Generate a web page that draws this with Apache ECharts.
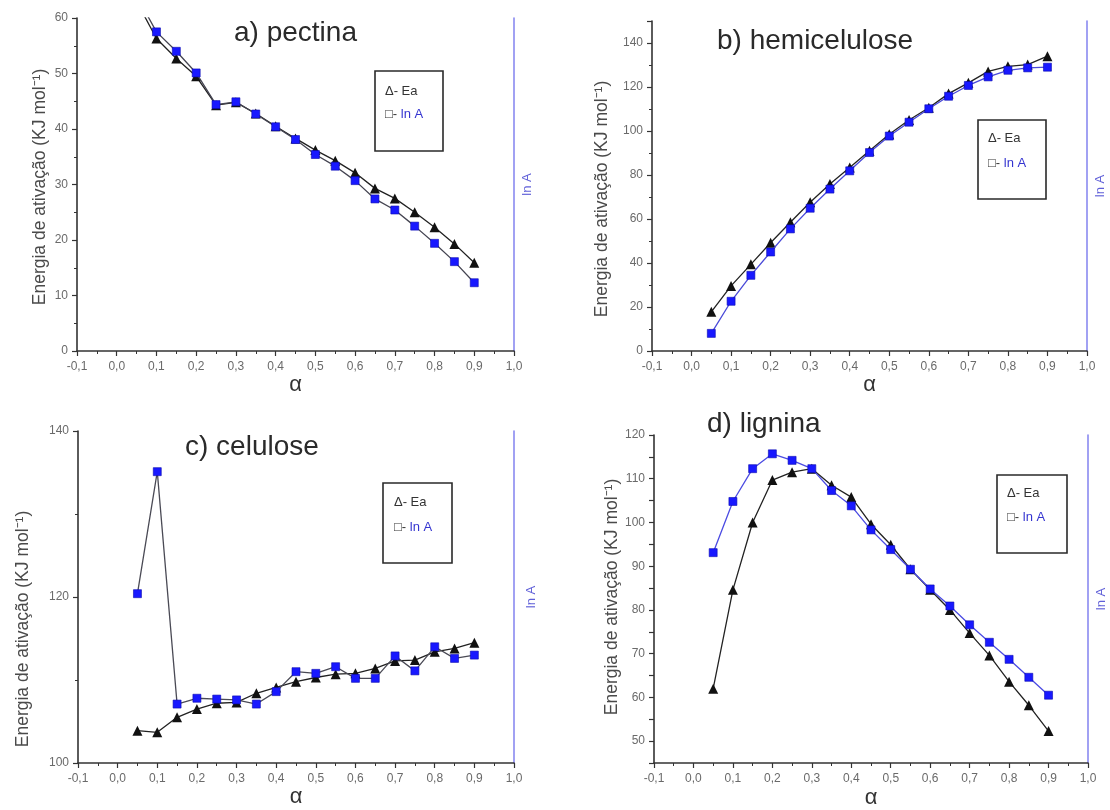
<!DOCTYPE html>
<html>
<head>
<meta charset="utf-8">
<script src="https://cdn.jsdelivr.net/npm/echarts@6/dist/echarts.min.js"></script>
<style>
  html, body { margin: 0; padding: 0; background: #fff; }
  #chart { width: 1110px; height: 810px; }
</style>
</head>
<body>
<div id="chart"></div>
<script>
// Conversion degree alpha shared by all four samples
const alpha = [0.05, 0.10, 0.15, 0.20, 0.25, 0.30, 0.35, 0.40, 0.45, 0.50, 0.55, 0.60, 0.65, 0.70, 0.75, 0.80, 0.85, 0.90];

// a) pectina
const pectinaEa  = [63.0, 56.3, 52.7, 49.5, 44.3, 44.8, 42.8, 40.5, 38.3, 36.2, 34.3, 32.1, 29.3, 27.5, 25.0, 22.3, 19.3, 15.9];
const pectinaLnA = [64.0, 57.5, 54.0, 50.1, 44.4, 44.9, 42.7, 40.4, 38.1, 35.4, 33.3, 30.7, 27.4, 25.4, 22.5, 19.4, 16.1, 12.3];

// b) hemicelulose
const hemiEa  = [17.8, 29.6, 39.4, 49.2, 58.5, 67.6, 75.9, 83.4, 91.0, 98.5, 105.0, 110.6, 117.0, 121.9, 127.1, 129.4, 130.2, 134.0];
const hemiLnA = [8.0, 22.6, 34.4, 45.0, 55.5, 64.9, 73.6, 81.9, 90.2, 97.7, 104.0, 110.1, 115.8, 120.7, 124.6, 127.6, 128.7, 129.0];

// c) celulose
const celEa  = [103.9, 103.7, 105.5, 106.5, 107.2, 107.3, 108.4, 109.1, 109.8, 110.3, 110.7, 110.8, 111.4, 112.3, 112.4, 113.4, 113.8, 114.5];
const celLnA = [120.4, 135.1, 107.1, 107.8, 107.7, 107.6, 107.1, 108.6, 111.0, 110.8, 111.6, 110.2, 110.2, 112.9, 111.1, 114.0, 112.6, 113.0];

// d) lignina
const ligEa  = [62.0, 84.6, 100.0, 109.7, 111.5, 112.3, 108.5, 105.8, 99.6, 94.9, 89.3, 84.6, 80.0, 74.7, 69.6, 63.6, 58.2, 52.3];
const ligLnA = [93.1, 104.8, 112.3, 115.7, 114.2, 112.3, 107.3, 103.8, 98.3, 93.8, 89.3, 84.8, 80.9, 76.6, 72.6, 68.7, 64.6, 60.5];

// Text
const panelTitles = ['a) pectina', 'b) hemicelulose', 'c) celulose', 'd) lignina'];
const yTitle = 'Energia de ativação (KJ mol⁻¹)';
const xTitle = 'α';
const rightTitle = 'ln A';
const legendEa = 'Δ- Ea';
const legendLnAMark = '□- ';
const legendLnAText = 'ln A';

const FONT = '"Liberation Sans", Arial, sans-serif';
const AXIS = '#333';
const BLUE_AXIS = '#8a8af0';
const BLUE_TEXT = '#5f5fd8';
const SQUARE = '#1818ff';

const panels = [
  { grid: { left: 77, top: 18, width: 437, height: 333 }, yMin: 0, yMax: 60, yStep: 10, labelEvery: 10, minor: 2,
    ea: pectinaEa, lnA: pectinaLnA, lnALine: '#454552',
    title: { x: 234, y: 33 }, yName: { x: 40, y: 187 }, rightGap: 7, xGap: 22,
    legend: { x: 375, y: 71, w: 68, h: 80, tx: 385, t1: 91, t2: 114 } },
  { grid: { left: 652, top: 21, width: 435, height: 330 }, yMin: 0, yMax: 150, yStep: 20, labelEvery: 20, minor: 2,
    ea: hemiEa, lnA: hemiLnA, lnALine: '#4a4ad8',
    title: { x: 717, y: 41 }, yName: { x: 602, y: 199 }, rightGap: 7, xGap: 20,
    legend: { x: 978, y: 120, w: 68, h: 79, tx: 988, t1: 138, t2: 163 } },
  { grid: { left: 78, top: 431, width: 436, height: 332 }, yMin: 100, yMax: 140, yStep: 20, labelEvery: 20, minor: 2,
    ea: celEa, lnA: celLnA, lnALine: '#4a4a55',
    title: { x: 185, y: 447 }, yName: { x: 23, y: 629 }, rightGap: 11, xGap: 23,
    legend: { x: 383, y: 483, w: 69, h: 80, tx: 394, t1: 502, t2: 527 } },
  { grid: { left: 654, top: 435, width: 434, height: 334 }, yMin: 45, yMax: 120, yStep: 5, labelEvery: 10, minor: 0,
    ea: ligEa, lnA: ligLnA, lnALine: '#4b4be2',
    title: { x: 707, y: 424 }, yName: { x: 612, y: 597 }, rightGap: 7, xGap: 24,
    legend: { x: 997, y: 475, w: 70, h: 78, tx: 1007, t1: 493, t2: 517 } }
];

function fmtAlpha(v) {
  if (Math.abs(v) < 1e-9) return '0,0';
  return v.toFixed(1).replace('.', ',');
}

const grid = [], xAxis = [], yAxis = [], series = [], graphic = [];

panels.forEach((p, i) => {
  grid.push(Object.assign({ containLabel: false }, p.grid));

  xAxis.push({
    gridIndex: i, type: 'value', min: -0.1, max: 1.0, interval: 0.1,
    axisLine: { onZero: false, lineStyle: { color: AXIS, width: 1.6 } },
    axisTick: { show: true, inside: false, length: 5, lineStyle: { color: AXIS, width: 1.2 } },
    minorTick: { show: true, splitNumber: 2, length: 3, lineStyle: { color: AXIS, width: 1 } },
    splitLine: { show: false },
    axisLabel: { formatter: fmtAlpha, color: '#6a6a6a', fontSize: 12, margin: 10, fontFamily: FONT },
    name: xTitle, nameLocation: 'middle', nameGap: p.xGap,
    nameTextStyle: { fontSize: 22, color: '#333', fontFamily: FONT }
  });

  yAxis.push({
    gridIndex: i, type: 'value', position: 'left', min: p.yMin, max: p.yMax, interval: p.yStep,
    axisLine: { show: true, onZero: false, lineStyle: { color: AXIS, width: 1.6 } },
    axisTick: { show: true, inside: false, length: 5, lineStyle: { color: AXIS, width: 1.2 } },
    minorTick: { show: p.minor > 0, splitNumber: p.minor || 2, length: 3, lineStyle: { color: AXIS, width: 1 } },
    splitLine: { show: false },
    axisLabel: {
      formatter: v => (Math.abs(v % p.labelEvery) < 1e-9 ? String(v) : ''),
      color: '#6a6a6a', fontSize: 12, margin: 9, fontFamily: FONT
    }
  });

  yAxis.push({
    gridIndex: i, type: 'value', position: 'right', min: 0, max: 1,
    axisLine: { show: true, onZero: false, lineStyle: { color: BLUE_AXIS, width: 1.6 } },
    axisTick: { show: false }, axisLabel: { show: false }, splitLine: { show: false },
    name: rightTitle, nameLocation: 'middle', nameGap: p.rightGap,
    nameTextStyle: { color: BLUE_TEXT, fontSize: 13, fontFamily: FONT }
  });

  series.push({
    type: 'line', xAxisIndex: i, yAxisIndex: 2 * i, clip: true,
    data: alpha.map((a, k) => [a, p.ea[k]]),
    symbol: 'triangle', symbolSize: 10,
    itemStyle: { color: '#111' },
    lineStyle: { color: '#222', width: 1.3 },
    z: 3
  });
  series.push({
    type: 'line', xAxisIndex: i, yAxisIndex: 2 * i, clip: true,
    data: alpha.map((a, k) => [a, p.lnA[k]]),
    symbol: 'rect', symbolSize: 8,
    itemStyle: { color: SQUARE, borderColor: '#0a0ab0', borderWidth: 0.6 },
    lineStyle: { color: p.lnALine, width: 1.3 },
    z: 4
  });

  // panel title
  graphic.push({
    type: 'text', x: p.title.x, y: p.title.y,
    style: { text: panelTitles[i], fontSize: 28, fontFamily: FONT, fill: '#2a2a2a', align: 'left', verticalAlign: 'middle' }
  });
  // left axis title, reading bottom to top
  graphic.push({
    type: 'text', x: p.yName.x, y: p.yName.y, rotation: Math.PI / 2,
    style: { text: yTitle, fontSize: 17.5, fontFamily: FONT, fill: '#4a4a4a', align: 'center', verticalAlign: 'middle' }
  });
  // legend box
  const L = p.legend;
  graphic.push({
    type: 'rect', shape: { x: L.x, y: L.y, width: L.w, height: L.h },
    style: { fill: '#fff', stroke: '#2a2a2a', lineWidth: 1.6 }, z: 10
  });
  graphic.push({
    type: 'text', x: L.tx, y: L.t1, z: 11,
    style: { text: legendEa, fontSize: 13, fontFamily: FONT, fill: '#333', align: 'left', verticalAlign: 'middle' }
  });
  graphic.push({
    type: 'text', x: L.tx, y: L.t2, z: 11,
    style: {
      text: '{k|' + legendLnAMark + '}{b|' + legendLnAText + '}',
      align: 'left', verticalAlign: 'middle',
      rich: {
        k: { fontSize: 13, fontFamily: FONT, fill: '#333', color: '#333' },
        b: { fontSize: 13, fontFamily: FONT, fill: '#3434d0', color: '#3434d0' }
      }
    }
  });
});

const chart = echarts.init(document.getElementById('chart'), null, { renderer: 'canvas' });
chart.setOption({
  backgroundColor: '#ffffff',
  animation: false,
  textStyle: { fontFamily: FONT },
  grid, xAxis, yAxis, series, graphic
});
</script>
</body>
</html>
